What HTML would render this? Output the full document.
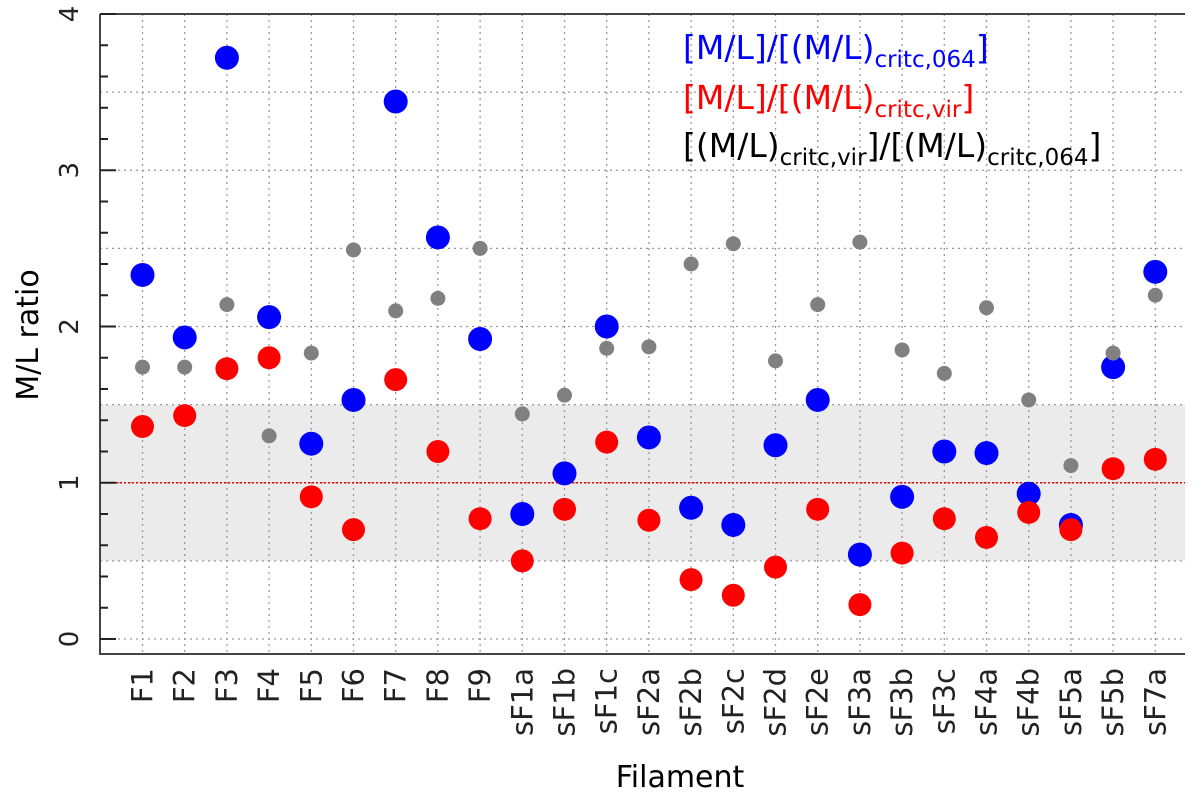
<!DOCTYPE html>
<html><head><meta charset="utf-8"><style>body{margin:0;background:#fff}svg{display:block;font-family:"DejaVu Sans","Liberation Sans",sans-serif}</style></head>
<body>
<svg id="c" width="1200" height="798" viewBox="0 0 1200 798">
<g id="band"></g><g id="grid"></g><g id="marks"></g><g id="axes"></g>
<g font-size="33">
<text x="683" y="59" fill="#0000ff">[M/L]/[(M/L)<tspan font-size="23" dy="8">critc,064</tspan><tspan dy="-8">]</tspan></text>
<text x="683" y="109" fill="#ff0000">[M/L]/[(M/L)<tspan font-size="23" dy="8">critc,vir</tspan><tspan dy="-8">]</tspan></text>
<text x="683" y="157" fill="#000">[(M/L)<tspan font-size="23" dy="8">critc,vir</tspan><tspan dy="-8">]/[(M/L)</tspan><tspan font-size="23" dy="8">critc,064</tspan><tspan dy="-8">]</tspan></text>
</g>
<text transform="translate(38,335) rotate(-90)" text-anchor="middle" font-size="30">M/L ratio</text>
<text x="680" y="787" text-anchor="middle" font-size="30">Filament</text>
</svg>
<script>
const categories=["F1","F2","F3","F4","F5","F6","F7","F8","F9","sF1a","sF1b","sF1c","sF2a","sF2b","sF2c","sF2d","sF2e","sF3a","sF3b","sF3c","sF4a","sF4b","sF5a","sF5b","sF7a"];
const blueVals=[2.33,1.93,3.72,2.06,1.25,1.53,3.44,2.57,1.92,0.80,1.06,2.00,1.29,0.84,0.73,1.24,1.53,0.54,0.91,1.20,1.19,0.93,0.73,1.74,2.35];
const redVals=[1.36,1.43,1.73,1.80,0.91,0.70,1.66,1.20,0.77,0.50,0.83,1.26,0.76,0.38,0.28,0.46,0.83,0.22,0.55,0.77,0.65,0.81,0.70,1.09,1.15];
const grayVals=[1.74,1.74,2.14,1.30,1.83,2.49,2.10,2.18,2.50,1.44,1.56,1.86,1.87,2.40,2.53,1.78,2.14,2.54,1.85,1.70,2.12,1.53,1.11,1.83,2.20];
const yTicks=[0,1,2,3,4];
const L=100,R=1185,T=14,B=654;
const X=i=>142.5+i*42.2;
const Y=v=>639-v*156.25;
const NS="http://www.w3.org/2000/svg";
function mk(tag,attrs,parent){const e=document.createElementNS(NS,tag);for(const k in attrs)e.setAttribute(k,attrs[k]);document.getElementById(parent).appendChild(e);return e;}
let e=mk('rect',{x:L,y:Y(1.5),width:R-L,height:Y(0.5)-Y(1.5),fill:'#ebebeb'},'band');


for(let v=0;v<=4;v+=0.5){e=mk('line',{x1:L,x2:R,y1:Y(v),y2:Y(v),stroke:'#999','stroke-dasharray':'2,4','stroke-width':1.3},'grid');

}
categories.forEach((c,i)=>{e=mk('line',{x1:X(i),x2:X(i),y1:T,y2:B,stroke:'#999','stroke-dasharray':'2,4','stroke-width':1.3},'grid');

});
e=mk('line',{x1:L,x2:R,y1:Y(1),y2:Y(1),stroke:'#e00','stroke-dasharray':'2,2','stroke-width':1.5},'grid');


const series=[[blueVals,'#0000ff',12,'blue'],[redVals,'#ff0000',11.5,'red'],[grayVals,'#808080',7.5,'gray']];
series.forEach(([vals,col,r,nm])=>vals.forEach((v,i)=>{e=mk('circle',{cx:X(i),cy:Y(v),r:r,fill:col},'marks');

}));
e=mk('path',{d:`M${L},${T}H${R}M${L},${T}V${B}H${R}`,stroke:'#444',fill:'none','stroke-width':2},'axes');


for(let k=0;k<=20;k++){const v=k*0.2;e=mk('line',{x1:L,x2:L+(k%5==0?16:8),y1:Y(v),y2:Y(v),stroke:'#222','stroke-width':2},'axes');

}
yTicks.forEach(v=>{e=mk('text',{transform:`translate(78,${Y(v)}) rotate(-90)`,'text-anchor':'middle','font-size':26,fill:'#222'},'axes');e.textContent=v;

});
categories.forEach((c,i)=>{e=mk('text',{transform:`translate(${X(i)+10},668) rotate(-90)`,'text-anchor':'end','font-size':29,fill:'#222'},'axes');e.textContent=c;

});
</script>
</body></html>
